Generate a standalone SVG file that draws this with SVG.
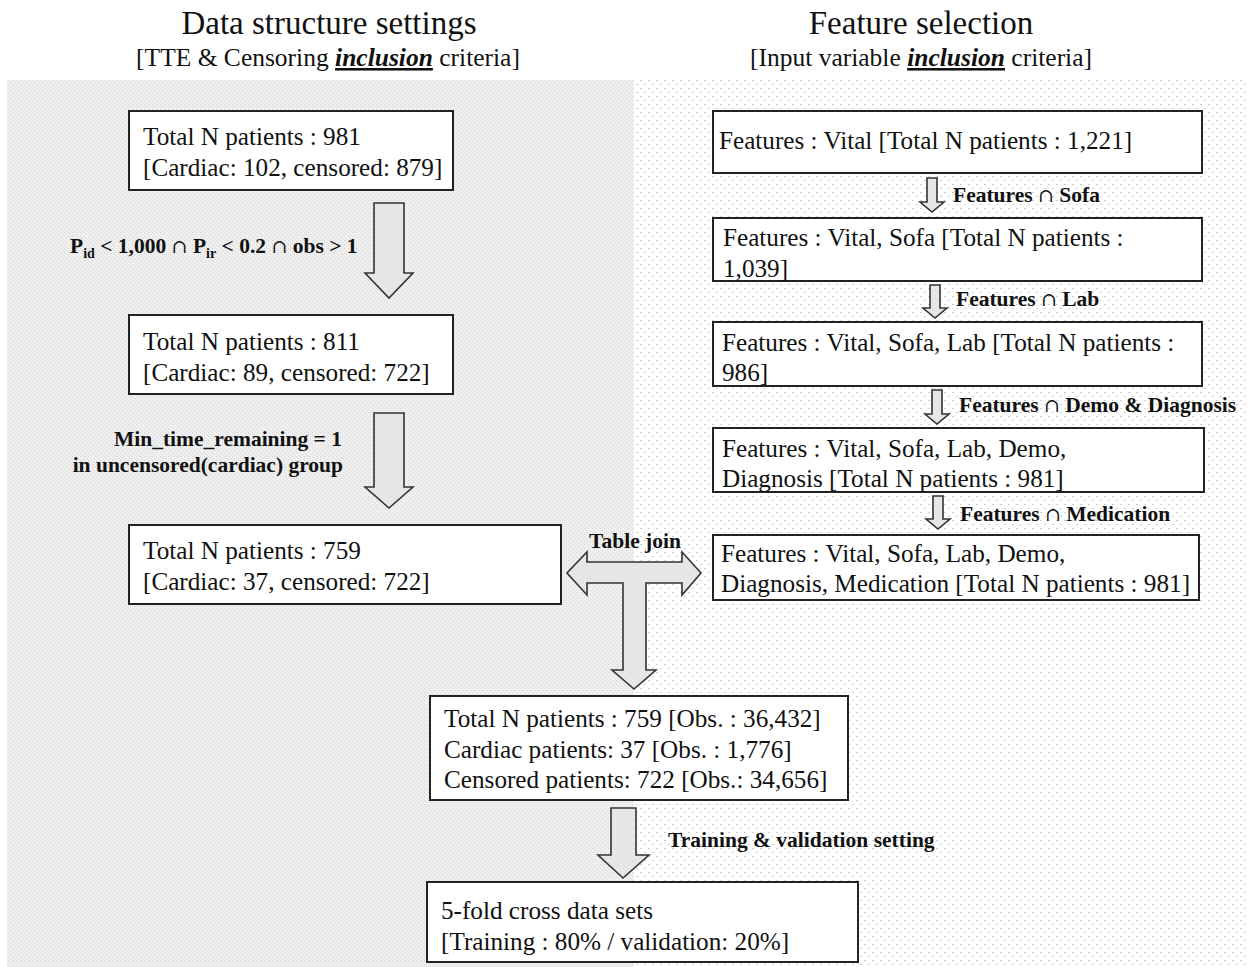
<svg xmlns="http://www.w3.org/2000/svg" width="1248" height="967" viewBox="0 0 1248 967">
<defs>
<pattern id="pl" width="4" height="4" patternUnits="userSpaceOnUse">
<rect width="4" height="4" fill="#ededed"/>
<rect x="0" y="0" width="1" height="1" fill="#d8d8d8"/>
<rect x="2" y="2" width="1" height="1" fill="#d8d8d8"/>
<rect x="1" y="3" width="1" height="1" fill="#f8f8f8"/>
<rect x="3" y="1" width="1" height="1" fill="#f8f8f8"/>
</pattern>
<pattern id="pr" width="8" height="8" patternUnits="userSpaceOnUse">
<rect width="8" height="8" fill="#ffffff"/>
<rect x="0" y="0" width="2" height="1" fill="#cfcfcf"/>
<rect x="4" y="4" width="2" height="1" fill="#cfcfcf"/>
</pattern>
</defs>
<style>
.box{fill:#fff;stroke:#222;stroke-width:2}
.arr{fill:#e6e6e6;stroke:#333;stroke-width:1.6;stroke-linejoin:miter}
.t{font-family:"Liberation Serif","Times New Roman",serif;font-size:25.2px;fill:#111}
.lb{font-family:"Liberation Serif","Times New Roman",serif;font-size:21.5px;font-weight:bold;fill:#111}
.cap{font-family:"DejaVu Serif",serif;font-weight:normal;font-size:19px}
.h1{font-family:"Liberation Serif","Times New Roman",serif;font-size:33px;fill:#111}
.h2{font-family:"Liberation Serif","Times New Roman",serif;font-size:25.5px;fill:#111}
</style>
<rect width="1248" height="967" fill="#fff"/>
<rect x="7" y="80" width="627" height="887" fill="url(#pl)"/>
<rect x="634" y="80" width="614" height="887" fill="url(#pr)"/>

<g id="titles">
<text class="h1" x="329" y="34" text-anchor="middle">Data structure settings</text>
<text class="h2" x="328" y="66" text-anchor="middle">[TTE &amp; Censoring <tspan font-weight="bold" font-style="italic" text-decoration="underline">inclusion</tspan> criteria]</text>
<text class="h1" x="921" y="34" text-anchor="middle">Feature selection</text>
<text class="h2" x="921" y="66" text-anchor="middle">[Input variable <tspan font-weight="bold" font-style="italic" text-decoration="underline">inclusion</tspan> criteria]</text>
</g>

<g id="connectors">
<polygon class="arr" points="374,203 404,203 404,273 413,273 389,298 365,273 374,273"/>
<polygon class="arr" points="374,413 404,413 404,487 413,487 389,508 365,487 374,487"/>
<polygon class="arr" points="567,573 587,552 587,562 682,562 682,552 701,573 682,595 682,583 646,583 646,670 656,670 634,689 612,670 623,670 623,583 587,583 587,595"/>
<polygon class="arr" points="611,808 636,808 636,855 649,855 623,878 598,855 611,855"/>
<polygon class="arr" points="927,178 937,178 937,202 944,202 932,212 920,202 927,202"/>
<polygon class="arr" points="930,285 940,285 940,308 947,308 935,318 923,308 930,308"/>
<polygon class="arr" points="932,390 942,390 942,414 949,414 937,424 925,414 932,414"/>
<polygon class="arr" points="933,496 943,496 943,519 950,519 938,529 926,519 933,519"/>
<text class="lb" x="70" y="253">P<tspan font-size="14" dy="5">id</tspan><tspan dy="-5"> &lt; 1,000 </tspan><tspan class="cap">∩</tspan> P<tspan font-size="14" dy="5">ir</tspan><tspan dy="-5"> &lt; 0.2 </tspan><tspan class="cap">∩</tspan> obs &gt; 1</text>
<text class="lb" x="342" y="446" text-anchor="end">Min_time_remaining = 1</text>
<text class="lb" x="343" y="472" text-anchor="end">in uncensored(cardiac) group</text>
<text class="lb" x="635" y="548" text-anchor="middle">Table join</text>
<text class="lb" x="668" y="847">Training &amp; validation setting</text>
<text class="lb" x="953" y="202">Features <tspan class="cap">∩</tspan> Sofa</text>
<text class="lb" x="956" y="306">Features <tspan class="cap">∩</tspan> Lab</text>
<text class="lb" x="959" y="412">Features <tspan class="cap">∩</tspan> Demo &amp; Diagnosis</text>
<text class="lb" x="960" y="521">Features <tspan class="cap">∩</tspan> Medication</text>
</g>

<g id="box1"><rect class="box" x="129" y="111" width="324" height="79"/>
<text class="t" x="143" y="145">Total N patients : 981</text>
<text class="t" x="143" y="176">[Cardiac: 102, censored: 879]</text></g>
<g id="box2"><rect class="box" x="129" y="315" width="324" height="79"/>
<text class="t" x="143" y="350">Total N patients : 811</text>
<text class="t" x="143" y="381">[Cardiac: 89, censored: 722]</text></g>
<g id="box3"><rect class="box" x="129" y="525" width="432" height="79"/>
<text class="t" x="143" y="559">Total N patients : 759</text>
<text class="t" x="143" y="590">[Cardiac: 37, censored: 722]</text></g>
<g id="joined"><rect class="box" x="430" y="696" width="418" height="104"/>
<text class="t" x="444" y="727">Total N patients : 759 [Obs. : 36,432]</text>
<text class="t" x="444" y="758">Cardiac patients: 37 [Obs. : 1,776]</text>
<text class="t" x="444" y="788">Censored patients: 722 [Obs.: 34,656]</text></g>
<g id="folds"><rect class="box" x="427" y="882" width="431" height="80"/>
<text class="t" x="441" y="919">5-fold cross data sets</text>
<text class="t" x="441" y="950">[Training : 80% / validation: 20%]</text></g>
<g id="r1"><rect class="box" x="713" y="111" width="489" height="62"/>
<text class="t" x="719" y="149">Features : Vital [Total N patients : 1,221]</text></g>
<g id="r2"><rect class="box" x="713" y="218" width="489" height="63"/>
<text class="t" x="723" y="246">Features : Vital, Sofa [Total N patients :</text>
<text class="t" x="723" y="277">1,039]</text></g>
<g id="r3"><rect class="box" x="713" y="322" width="489" height="64"/>
<text class="t" x="722" y="351">Features : Vital, Sofa, Lab [Total N patients :</text>
<text class="t" x="722" y="381">986]</text></g>
<g id="r4"><rect class="box" x="713" y="428" width="491" height="64"/>
<text class="t" x="722" y="457">Features : Vital, Sofa, Lab, Demo,</text>
<text class="t" x="722" y="487">Diagnosis [Total N patients : 981]</text></g>
<g id="r5"><rect class="box" x="713" y="535" width="486" height="65"/>
<text class="t" x="721" y="562">Features : Vital, Sofa, Lab, Demo,</text>
<text class="t" x="721" y="592">Diagnosis, Medication [Total N patients : 981]</text></g>
</svg>
